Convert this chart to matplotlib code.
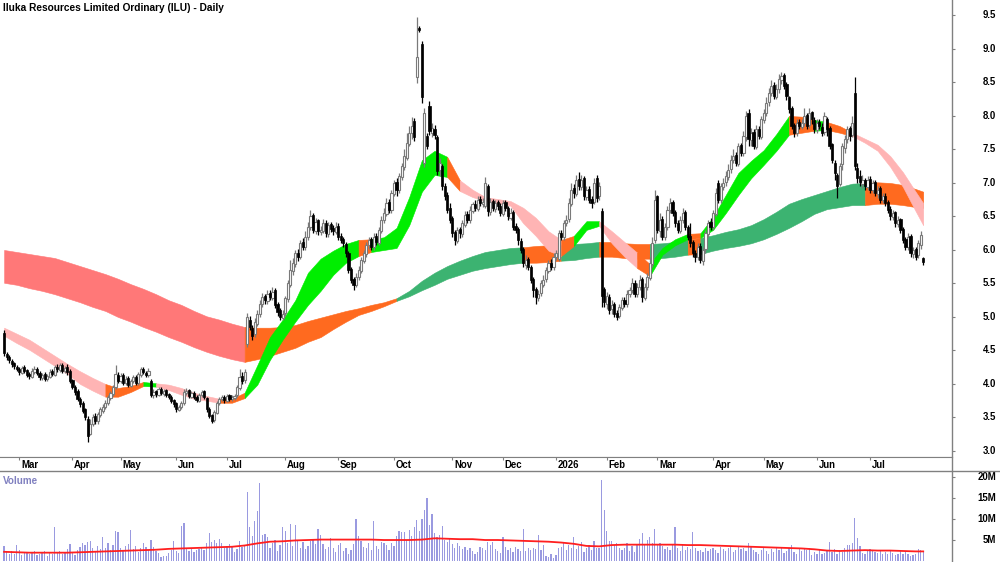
import numpy as np
import pandas as pd
import matplotlib
matplotlib.use("Agg")
import matplotlib.pyplot as plt
from matplotlib.lines import Line2D
from matplotlib.transforms import blended_transform_factory

plt.rcParams['font.family'] = ['Liberation Sans', 'DejaVu Sans']

# ASX trading days
holidays = ['2025-04-18', '2025-04-21', '2025-04-25', '2025-06-09', '2025-12-25',
            '2025-12-26', '2026-01-01', '2026-01-26', '2026-04-03', '2026-04-06', '2026-06-08']
dates = pd.bdate_range('2025-02-21', periods=364, freq='C', holidays=holidays)

opens = [
    4.76, 4.45, 4.41, 4.35, 4.31, 4.26, 4.23, 4.17, 4.25, 4.21, 4.15, 4.11, 4.18, 4.23, 4.17,
    4.09, 4.15, 4.07, 4.11, 4.20, 4.14, 4.26, 4.21, 4.29, 4.19, 4.26, 4.19, 4.06, 3.96, 3.89,
    3.77, 3.71, 3.62, 3.48, 3.26, 3.41, 3.52, 3.44, 3.54, 3.60, 3.65, 3.71, 3.79, 3.85, 3.96,
    4.14, 4.04, 4.13, 4.01, 4.09, 3.97, 4.04, 4.11, 4.01, 4.14, 4.23, 4.17, 4.13, 4.05, 3.83,
    3.89, 3.84, 3.93, 3.85, 3.91, 3.85, 3.81, 3.76, 3.71, 3.61, 3.65, 3.71, 3.87, 3.91, 3.81,
    3.87, 3.81, 3.75, 3.83, 3.89, 3.79, 3.63, 3.53, 3.46, 3.57, 3.71, 3.77, 3.81, 3.75, 3.83,
    3.77, 3.79, 3.83, 3.94, 4.12, 4.06, 4.60, 4.95, 4.84, 4.74, 4.90, 5.04, 5.19, 5.31, 5.24,
    5.36, 5.29, 5.40, 5.19, 5.10, 4.99, 5.06, 5.27, 5.48, 5.68, 5.79, 5.96, 5.89, 6.12, 6.04,
    6.19, 6.34, 6.52, 6.29, 6.44, 6.27, 6.29, 6.41, 6.24, 6.39, 6.33, 6.27, 6.36, 6.21, 6.16,
    6.09, 5.96, 5.72, 5.56, 5.47, 5.59, 5.69, 5.84, 5.94, 6.07, 6.16, 6.04, 6.21, 6.11, 6.29,
    6.44, 6.54, 6.72, 6.59, 6.84, 7.02, 6.89, 7.09, 7.24, 7.38, 7.58, 7.74, 7.92, 8.58, 9.32,
    9.08, 7.30, 7.70, 8.15, 7.75, 7.80, 7.68, 7.20, 7.25, 6.95, 6.82, 6.62, 6.47, 6.27, 6.14,
    6.31, 6.24, 6.38, 6.53, 6.44, 6.58, 6.69, 6.61, 6.76, 6.69, 6.65, 6.95, 6.56, 6.73, 6.61,
    6.71, 6.66, 6.54, 6.71, 6.63, 6.48, 6.56, 6.36, 6.32, 6.14, 6.02, 5.78, 5.87, 5.74, 5.56,
    5.42, 5.28, 5.36, 5.48, 5.56, 5.69, 5.81, 5.74, 5.89, 5.86, 6.26, 6.19, 6.41, 6.46, 6.69,
    6.92, 6.84, 7.06, 6.94, 7.07, 6.79, 6.91, 6.76, 6.72, 7.08, 6.80, 6.58, 5.42, 5.20, 5.30,
    5.12, 5.19, 5.06, 5.01, 5.14, 5.26, 5.19, 5.34, 5.41, 5.51, 5.34, 5.44, 5.56, 5.29, 5.44,
    5.58, 5.79, 6.15, 6.80, 6.28, 6.46, 6.19, 6.34, 6.59, 6.72, 6.56, 6.41, 6.29, 6.44, 6.56,
    6.34, 6.21, 6.12, 5.96, 5.89, 6.06, 5.84, 6.01, 6.24, 6.42, 6.34, 6.54, 7.00, 6.74, 6.94,
    7.01, 7.09, 7.21, 7.34, 7.42, 7.29, 7.56, 7.44, 7.68, 8.05, 7.64, 7.76, 7.54, 7.81, 7.69,
    7.94, 8.04, 8.21, 8.34, 8.46, 8.29, 8.41, 8.54, 8.61, 8.47, 8.28, 8.12, 7.86, 7.74, 7.91,
    7.84, 7.89, 8.01, 7.86, 8.06, 7.94, 7.79, 7.91, 7.84, 7.76, 7.95, 7.82, 7.58, 7.30, 7.12,
    6.98, 7.28, 7.52, 7.66, 7.82, 7.72, 8.35, 7.22, 7.10, 6.98, 7.04, 6.94, 7.06, 6.89, 7.01,
    6.84, 6.92, 6.74, 6.81, 6.71, 6.61, 6.49, 6.56, 6.39, 6.46, 6.31, 6.16, 6.04, 6.21, 5.94,
    6.01, 5.92, 6.08, 5.88,
]
highs = [
    4.80, 4.48, 4.43, 4.37, 4.33, 4.29, 4.25, 4.27, 4.28, 4.23, 4.18, 4.24, 4.27, 4.25, 4.19,
    4.17, 4.18, 4.15, 4.22, 4.23, 4.29, 4.30, 4.32, 4.31, 4.27, 4.30, 4.22, 4.08, 3.99, 3.92,
    3.80, 3.74, 3.64, 3.52, 3.48, 3.55, 3.56, 3.58, 3.66, 3.70, 3.76, 3.84, 3.90, 3.99, 4.28,
    4.18, 4.16, 4.16, 4.12, 4.12, 4.08, 4.14, 4.13, 4.18, 4.25, 4.26, 4.20, 4.24, 4.07, 3.92,
    3.91, 3.95, 3.95, 3.93, 3.93, 3.87, 3.84, 3.78, 3.73, 3.69, 3.75, 3.92, 3.94, 3.93, 3.89,
    3.89, 3.83, 3.86, 3.91, 3.91, 3.81, 3.66, 3.55, 3.61, 3.75, 3.81, 3.83, 3.83, 3.85, 3.85,
    3.83, 3.85, 3.98, 4.22, 4.18, 4.22, 5.06, 5.02, 4.88, 4.98, 5.10, 5.25, 5.36, 5.34, 5.40,
    5.40, 5.45, 5.43, 5.22, 5.13, 5.10, 5.32, 5.55, 5.85, 5.88, 6.00, 6.02, 6.15, 6.18, 6.28,
    6.42, 6.60, 6.55, 6.48, 6.46, 6.36, 6.46, 6.44, 6.42, 6.42, 6.37, 6.42, 6.40, 6.26, 6.20,
    6.12, 5.98, 5.75, 5.60, 5.65, 5.76, 5.90, 6.00, 6.12, 6.20, 6.20, 6.25, 6.26, 6.35, 6.50,
    6.62, 6.78, 6.76, 6.90, 7.05, 7.08, 7.15, 7.30, 7.50, 7.75, 7.85, 7.98, 7.97, 9.48, 9.35,
    9.12, 8.12, 7.75, 8.22, 7.90, 7.86, 7.72, 7.38, 7.28, 7.00, 6.86, 6.70, 6.50, 6.30, 6.35,
    6.35, 6.45, 6.58, 6.58, 6.66, 6.72, 6.74, 6.80, 6.80, 6.78, 7.09, 6.98, 6.78, 6.76, 6.75,
    6.74, 6.70, 6.75, 6.74, 6.66, 6.62, 6.60, 6.40, 6.35, 6.18, 6.05, 5.92, 5.90, 5.78, 5.60,
    5.45, 5.40, 5.55, 5.62, 5.75, 5.85, 5.86, 5.95, 6.00, 6.30, 6.30, 6.45, 6.52, 6.78, 7.00,
    6.98, 7.12, 7.16, 7.12, 7.10, 6.95, 6.95, 6.80, 7.08, 7.12, 7.02, 6.62, 5.45, 5.38, 5.34,
    5.25, 5.22, 5.10, 5.20, 5.30, 5.30, 5.40, 5.45, 5.58, 5.55, 5.50, 5.62, 5.60, 5.50, 5.65,
    5.90, 6.20, 6.90, 6.82, 6.55, 6.50, 6.40, 6.65, 6.78, 6.75, 6.60, 6.45, 6.50, 6.62, 6.60,
    6.38, 6.40, 6.15, 6.00, 6.10, 6.10, 6.05, 6.30, 6.45, 6.48, 6.60, 6.92, 7.05, 7.00, 7.08,
    7.18, 7.28, 7.42, 7.50, 7.46, 7.60, 7.60, 7.78, 8.08, 8.10, 7.82, 7.80, 7.86, 7.85, 8.00,
    8.10, 8.28, 8.42, 8.54, 8.50, 8.48, 8.62, 8.66, 8.64, 8.50, 8.30, 8.15, 7.90, 7.95, 7.95,
    7.95, 8.12, 8.05, 8.12, 8.08, 7.98, 7.95, 7.95, 7.90, 8.06, 7.98, 7.85, 7.60, 7.35, 7.15,
    7.30, 7.60, 7.72, 7.85, 7.85, 8.00, 8.58, 7.30, 7.20, 7.12, 7.08, 7.10, 7.10, 7.05, 7.04,
    6.95, 6.95, 6.85, 6.85, 6.75, 6.65, 6.60, 6.58, 6.50, 6.48, 6.35, 6.20, 6.25, 6.24, 6.05,
    6.05, 6.15, 6.28, 5.90,
]
lows = [
    4.42, 4.36, 4.32, 4.26, 4.22, 4.19, 4.14, 4.15, 4.17, 4.10, 4.08, 4.09, 4.15, 4.13, 4.06,
    4.06, 4.05, 4.04, 4.09, 4.12, 4.12, 4.18, 4.18, 4.17, 4.16, 4.14, 4.02, 3.92, 3.84, 3.74,
    3.66, 3.57, 3.46, 3.13, 3.24, 3.38, 3.40, 3.41, 3.51, 3.57, 3.62, 3.68, 3.76, 3.82, 3.93,
    4.01, 4.01, 3.98, 3.98, 3.95, 3.95, 4.01, 3.99, 3.99, 4.11, 4.15, 4.10, 4.11, 3.80, 3.79,
    3.81, 3.82, 3.83, 3.82, 3.80, 3.77, 3.72, 3.66, 3.58, 3.59, 3.63, 3.69, 3.84, 3.79, 3.79,
    3.77, 3.73, 3.73, 3.81, 3.77, 3.58, 3.49, 3.42, 3.43, 3.55, 3.69, 3.74, 3.72, 3.73, 3.75,
    3.74, 3.76, 3.80, 3.91, 4.00, 4.02, 4.55, 4.80, 4.65, 4.70, 4.86, 5.00, 5.15, 5.20, 5.20,
    5.25, 5.26, 5.14, 5.02, 4.96, 4.96, 5.02, 5.22, 5.44, 5.62, 5.75, 5.84, 5.86, 6.00, 6.00,
    6.15, 6.30, 6.25, 6.24, 6.22, 6.22, 6.25, 6.20, 6.20, 6.27, 6.22, 6.24, 6.15, 6.10, 6.05,
    5.90, 5.65, 5.50, 5.40, 5.44, 5.55, 5.65, 5.80, 5.90, 6.02, 6.00, 6.00, 6.08, 6.08, 6.25,
    6.40, 6.50, 6.55, 6.55, 6.80, 6.80, 6.85, 7.05, 7.20, 7.35, 7.55, 7.65, 7.62, 8.49, 9.25,
    8.20, 7.24, 7.50, 7.72, 7.68, 7.65, 7.12, 7.10, 6.90, 6.75, 6.55, 6.40, 6.20, 6.08, 6.10,
    6.18, 6.20, 6.34, 6.40, 6.40, 6.55, 6.58, 6.58, 6.65, 6.64, 6.62, 6.50, 6.52, 6.58, 6.56,
    6.60, 6.50, 6.50, 6.58, 6.44, 6.45, 6.30, 6.25, 6.08, 5.95, 5.75, 5.72, 5.70, 5.50, 5.30,
    5.20, 5.24, 5.32, 5.45, 5.52, 5.65, 5.70, 5.70, 5.85, 5.84, 6.15, 6.15, 6.36, 6.42, 6.65,
    6.78, 6.80, 6.90, 6.90, 6.75, 6.75, 6.70, 6.62, 6.68, 6.72, 6.75, 5.15, 5.15, 5.12, 5.05,
    5.05, 5.00, 4.95, 4.98, 5.10, 5.15, 5.15, 5.30, 5.36, 5.30, 5.30, 5.40, 5.22, 5.25, 5.40,
    5.55, 5.75, 6.10, 6.25, 6.20, 6.15, 6.15, 6.30, 6.55, 6.50, 6.35, 6.25, 6.25, 6.40, 6.30,
    6.15, 6.05, 5.90, 5.82, 5.85, 5.80, 5.78, 5.95, 6.20, 6.30, 6.30, 6.50, 6.70, 6.70, 6.90,
    6.95, 7.05, 7.15, 7.30, 7.25, 7.25, 7.40, 7.40, 7.62, 7.55, 7.55, 7.50, 7.50, 7.65, 7.65,
    7.90, 8.00, 8.15, 8.30, 8.25, 8.25, 8.35, 8.48, 8.40, 8.24, 8.05, 7.80, 7.68, 7.70, 7.80,
    7.80, 7.85, 7.80, 7.82, 7.88, 7.75, 7.75, 7.80, 7.70, 7.72, 7.70, 7.50, 7.30, 7.05, 6.78,
    6.95, 7.20, 7.45, 7.60, 7.62, 7.68, 7.20, 7.00, 6.95, 6.92, 6.90, 6.90, 6.85, 6.85, 6.80,
    6.78, 6.70, 6.70, 6.65, 6.55, 6.45, 6.45, 6.35, 6.35, 6.25, 6.10, 6.00, 6.00, 5.90, 5.88,
    5.85, 5.88, 6.02, 5.78,
]
closes = [
    4.46, 4.40, 4.36, 4.30, 4.27, 4.22, 4.18, 4.24, 4.20, 4.14, 4.12, 4.20, 4.22, 4.16, 4.10,
    4.14, 4.08, 4.12, 4.18, 4.15, 4.25, 4.22, 4.28, 4.20, 4.24, 4.18, 4.05, 3.95, 3.88, 3.78,
    3.70, 3.60, 3.50, 3.22, 3.40, 3.50, 3.45, 3.55, 3.62, 3.66, 3.72, 3.80, 3.86, 3.95, 4.15,
    4.05, 4.12, 4.02, 4.08, 3.98, 4.05, 4.10, 4.02, 4.15, 4.22, 4.18, 4.14, 4.20, 3.84, 3.88,
    3.85, 3.92, 3.86, 3.90, 3.84, 3.80, 3.75, 3.70, 3.62, 3.66, 3.72, 3.88, 3.90, 3.82, 3.86,
    3.80, 3.76, 3.84, 3.88, 3.80, 3.62, 3.52, 3.45, 3.58, 3.72, 3.78, 3.80, 3.76, 3.82, 3.78,
    3.80, 3.82, 3.95, 4.10, 4.05, 4.18, 5.00, 4.85, 4.72, 4.92, 5.05, 5.20, 5.30, 5.25, 5.35,
    5.30, 5.38, 5.18, 5.08, 5.00, 5.05, 5.28, 5.50, 5.70, 5.80, 5.95, 5.90, 6.10, 6.05, 6.20,
    6.35, 6.50, 6.30, 6.42, 6.28, 6.30, 6.40, 6.25, 6.38, 6.32, 6.28, 6.35, 6.20, 6.15, 6.10,
    5.95, 5.70, 5.55, 5.48, 5.60, 5.70, 5.85, 5.95, 6.08, 6.15, 6.05, 6.20, 6.12, 6.30, 6.45,
    6.55, 6.70, 6.60, 6.85, 7.00, 6.90, 7.10, 7.25, 7.40, 7.60, 7.75, 7.85, 7.68, 8.88, 9.28,
    8.28, 8.05, 7.55, 7.78, 7.82, 7.72, 7.18, 7.30, 6.95, 6.80, 6.60, 6.45, 6.25, 6.15, 6.30,
    6.25, 6.40, 6.52, 6.45, 6.60, 6.68, 6.62, 6.75, 6.70, 6.72, 7.00, 6.58, 6.72, 6.62, 6.70,
    6.65, 6.55, 6.70, 6.62, 6.50, 6.55, 6.35, 6.30, 6.15, 6.00, 5.80, 5.85, 5.75, 5.55, 5.40,
    5.30, 5.35, 5.50, 5.55, 5.70, 5.80, 5.75, 5.90, 5.95, 6.25, 6.20, 6.40, 6.45, 6.70, 6.90,
    6.85, 7.05, 6.95, 7.05, 6.80, 6.90, 6.75, 6.70, 7.00, 6.78, 6.95, 5.32, 5.22, 5.32, 5.10,
    5.18, 5.05, 5.00, 5.15, 5.25, 5.20, 5.35, 5.40, 5.50, 5.35, 5.45, 5.55, 5.30, 5.45, 5.60,
    5.80, 6.10, 6.75, 6.30, 6.45, 6.20, 6.35, 6.60, 6.70, 6.55, 6.40, 6.30, 6.45, 6.55, 6.35,
    6.20, 6.10, 5.95, 5.90, 6.05, 5.85, 6.00, 6.25, 6.40, 6.35, 6.55, 6.85, 6.75, 6.95, 7.00,
    7.10, 7.20, 7.35, 7.40, 7.30, 7.55, 7.45, 7.70, 8.00, 7.65, 7.75, 7.55, 7.80, 7.70, 7.95,
    8.05, 8.20, 8.35, 8.45, 8.30, 8.40, 8.55, 8.60, 8.45, 8.30, 8.10, 7.85, 7.75, 7.90, 7.85,
    7.90, 8.00, 7.85, 8.05, 7.95, 7.80, 7.90, 7.85, 7.75, 8.00, 7.80, 7.55, 7.35, 7.15, 6.95,
    7.25, 7.55, 7.65, 7.80, 7.70, 7.90, 7.25, 7.08, 7.02, 7.05, 6.95, 7.05, 6.90, 7.00, 6.85,
    6.90, 6.75, 6.80, 6.70, 6.60, 6.50, 6.55, 6.40, 6.45, 6.30, 6.15, 6.05, 6.20, 5.95, 6.00,
    5.90, 6.10, 6.22, 5.82,
]
volumes = [  # millions
    3.5, 2.1, 1.6, 2.4, 1.8, 3.8, 2.6, 1.4, 1.9, 2.2, 1.6, 2.0, 2.4, 1.5, 1.8,
    2.2, 2.4, 1.3, 1.9, 1.6, 8.0, 2.1, 2.5, 1.7, 2.0, 2.8, 4.0, 2.2, 1.5, 2.6,
    3.4, 4.2, 3.8, 4.6, 4.8, 3.0, 2.4, 3.6, 2.8, 5.6, 3.2, 4.4, 2.6, 3.8, 7.1,
    6.8, 3.0, 2.4, 3.5, 4.0, 7.4, 2.8, 3.6, 2.2, 3.0, 4.2, 3.3, 2.6, 5.0, 3.4,
    2.5, 2.0, 1.0, 1.1, 1.3, 2.0, 2.6, 4.7, 2.4, 2.0, 8.3, 9.1, 3.2, 2.4, 3.0,
    2.2, 2.6, 2.8, 3.4, 2.6, 4.2, 6.7, 4.5, 5.0, 4.4, 5.2, 4.4, 3.0, 3.6, 4.0,
    3.6, 2.2, 2.8, 4.8, 3.4, 3.6, 16.4, 8.2, 6.0, 9.6, 11.8, 18.4, 6.2, 6.5, 5.8,
    3.0, 4.2, 5.0, 2.4, 3.8, 8.0, 7.1, 4.4, 8.8, 3.6, 8.5, 5.0, 3.2, 4.6, 2.8,
    3.6, 4.8, 5.2, 4.0, 7.5, 6.2, 4.0, 2.8, 3.4, 5.4, 3.0, 2.2, 3.8, 4.2, 2.4,
    3.0, 1.8, 2.6, 4.0, 10.0, 5.9, 4.8, 3.4, 3.0, 4.2, 2.6, 9.4, 3.6, 2.8, 4.6,
    4.2, 3.8, 2.6, 4.4, 3.6, 6.0, 7.2, 6.8, 7.0, 5.0, 7.4, 6.0, 8.0, 9.8, 7.2,
    10.0, 12.2, 15.0, 8.6, 11.1, 6.6, 5.8, 6.2, 8.4, 5.0, 4.6, 5.4, 4.0, 3.2, 4.4,
    3.6, 2.8, 3.4, 2.6, 3.0, 2.4, 1.6, 2.2, 3.4, 3.0, 2.6, 4.5, 3.8, 4.6, 2.8,
    2.4, 2.0, 5.6, 3.4, 2.6, 3.0, 2.2, 3.4, 2.8, 2.5, 7.6, 2.4, 3.0, 2.6, 3.2,
    2.8, 6.2, 2.6, 3.8, 1.2, 1.0, 1.6, 0.8, 1.4, 3.0, 3.4, 4.4, 2.6, 3.8, 3.2,
    5.8, 2.8, 3.6, 4.6, 2.2, 3.2, 3.8, 2.6, 4.8, 3.0, 3.2, 19.1, 12.2, 7.1, 4.7,
    4.7, 3.8, 4.4, 3.2, 2.6, 3.0, 4.2, 2.4, 3.6, 2.2, 3.8, 5.2, 6.7, 4.0, 5.0,
    5.8, 4.2, 7.6, 3.8, 4.4, 3.6, 2.8, 3.4, 2.6, 4.0, 8.0, 3.2, 2.4, 3.8, 2.6,
    3.4, 2.8, 7.0, 3.0, 2.4, 2.6, 2.2, 3.0, 2.4, 2.8, 3.2, 2.6, 2.0, 3.4, 2.8,
    2.4, 3.0, 3.6, 2.2, 2.6, 3.4, 2.8, 3.0, 2.4, 4.2, 3.6, 2.6, 2.2, 1.8, 2.6,
    3.0, 2.4, 1.8, 2.8, 2.2, 3.0, 2.6, 3.4, 2.0, 2.4, 3.2, 3.8, 2.2, 1.6, 2.8,
    2.4, 3.2, 2.6, 3.0, 1.4, 2.2, 1.8, 2.6, 1.6, 2.0, 2.4, 4.6, 2.2, 2.8, 1.8,
    2.6, 2.2, 3.0, 3.8, 3.8, 4.4, 10.3, 5.4, 3.5, 2.0, 1.6, 2.4, 2.8, 2.6, 2.2,
    2.0, 2.6, 1.8, 2.2, 1.6, 2.4, 2.0, 1.4, 1.8, 2.7, 1.8, 2.2, 1.6, 1.2, 1.4,
    1.6, 2.8, 2.6, 2.4,
]

# ribbons, sampled every 5 bars (last sample on the last bar)
long_hi = [
    6.00, 5.97, 5.94, 5.91, 5.88, 5.82, 5.76, 5.70, 5.64, 5.57,
    5.49, 5.42, 5.34, 5.25, 5.18, 5.09, 5.01, 4.96, 4.90, 4.85,
    4.84, 4.84, 4.85, 4.88, 4.94, 4.99, 5.04, 5.09, 5.13, 5.18,
    5.22, 5.28, 5.39, 5.54, 5.66, 5.76, 5.84, 5.91, 5.97, 6.00,
    6.03, 6.04, 6.06, 6.07, 6.07, 6.09, 6.10, 6.12, 6.12, 6.10,
    6.09, 6.09, 6.10, 6.12, 6.15, 6.18, 6.22, 6.27, 6.31, 6.37,
    6.46, 6.57, 6.69, 6.76, 6.82, 6.88, 6.94, 6.99, 7.00, 7.01,
    7.00, 6.97, 6.91, 6.87,
]
long_lo = [
    5.51, 5.48, 5.43, 5.39, 5.34, 5.28, 5.22, 5.15, 5.09, 5.00,
    4.93, 4.85, 4.78, 4.70, 4.63, 4.55, 4.48, 4.42, 4.37, 4.33,
    4.37, 4.42, 4.48, 4.54, 4.63, 4.70, 4.82, 4.93, 5.03, 5.09,
    5.16, 5.24, 5.31, 5.40, 5.48, 5.57, 5.63, 5.69, 5.73, 5.76,
    5.79, 5.81, 5.81, 5.82, 5.84, 5.85, 5.88, 5.90, 5.90, 5.88,
    5.87, 5.87, 5.88, 5.90, 5.93, 5.94, 5.99, 6.03, 6.06, 6.10,
    6.16, 6.24, 6.33, 6.43, 6.54, 6.61, 6.64, 6.67, 6.67, 6.69,
    6.69, 6.67, 6.64, 6.63,
]
short_hi = [
    4.84, 4.75, 4.66, 4.54, 4.42, 4.30, 4.19, 4.09, 4.00, 3.94,
    3.97, 4.03, 4.01, 3.99, 3.94, 3.87, 3.82, 3.78, 3.78, 3.87,
    4.28, 4.70, 4.96, 5.25, 5.66, 5.87, 5.99, 6.09, 6.15, 6.16,
    6.19, 6.33, 6.79, 7.34, 7.48, 7.39, 7.04, 6.90, 6.79, 6.76,
    6.73, 6.63, 6.48, 6.28, 6.15, 6.21, 6.43, 6.43, 6.28, 6.12,
    5.96, 5.79, 6.03, 6.16, 6.24, 6.25, 6.49, 6.82, 7.15, 7.33,
    7.49, 7.73, 8.00, 7.99, 7.94, 7.91, 7.85, 7.75, 7.66, 7.57,
    7.40, 7.16, 6.87, 6.70,
]
short_lo = [
    4.72, 4.61, 4.51, 4.39, 4.27, 4.15, 4.00, 3.90, 3.81, 3.81,
    3.88, 3.97, 3.96, 3.91, 3.84, 3.78, 3.75, 3.72, 3.72, 3.79,
    3.99, 4.36, 4.66, 4.93, 5.18, 5.39, 5.63, 5.81, 5.91, 5.97,
    6.00, 6.03, 6.37, 6.87, 7.12, 7.09, 6.88, 6.79, 6.73, 6.70,
    6.66, 6.40, 6.21, 5.99, 5.91, 6.06, 6.30, 6.36, 6.10, 5.90,
    5.73, 5.61, 5.93, 6.07, 6.16, 6.18, 6.30, 6.55, 6.82, 7.07,
    7.27, 7.48, 7.72, 7.75, 7.78, 7.79, 7.75, 7.70, 7.60, 7.48,
    7.24, 6.94, 6.58, 6.37,
]
# trend state of each ribbon segment: R/P falling, O mixed, G rising
long_state = ("RRRRRRRRRRRRRRRRRRR" "OOOOOOOOOOOO" "GGGGGGGGGG" "OOO" "GGG"
              "OOOO" "GGG" "O" "GGGGGGGGGGGGG" "OOOOO")
short_state = ("PPPPPPPP" "OOO" "G" "PPPPP" "OO" "GGGGGGGGG" "O" "GGGGGG" "O"
               "PPPPPPPP" "O" "GG" "PPP" "O" "GGG" "O" "GGGGGGG" "OO" "G" "OO" "PPPPPP")
vol_ma = [
    2.2, 2.1, 2.0, 2.0, 2.0, 2.0, 2.1, 2.2, 2.3, 2.4,
    2.5, 2.6, 2.7, 2.9, 3.0, 3.1, 3.2, 3.3, 3.4, 3.7,
    4.2, 4.6, 4.7, 4.9, 5.0, 5.1, 5.1, 5.1, 5.1, 5.1,
    5.0, 5.0, 5.0, 5.1, 5.4, 5.3, 5.2, 5.2, 5.0, 5.0,
    4.9, 4.8, 4.7, 4.6, 4.4, 4.1, 3.6, 3.5, 3.8, 3.9,
    3.9, 3.9, 3.9, 3.9, 3.8, 3.8, 3.7, 3.6, 3.5, 3.4,
    3.3, 3.2, 3.1, 3.0, 2.8, 2.5, 2.4, 2.5, 2.6, 2.5,
    2.5, 2.4, 2.3, 2.3,
]

o = np.array(opens); h = np.array(highs); l = np.array(lows); c = np.array(closes)
x = np.arange(len(c))
rib_x = np.r_[np.arange(0, len(c) - 3, 5), len(c) - 1]

LONG_COLORS = {'R': '#ff7878', 'O': '#ff6a1f', 'G': '#3cb371'}
SHORT_COLORS = {'P': '#ffb4b4', 'O': '#ff6a1f', 'G': '#00ee00'}
GRAY = '#808080'

W, H = 1000, 562
fig = plt.figure(figsize=(10, 5.62), dpi=100)
ax = fig.add_axes([0, 1 - 457 / H, 951.7 / W, 457 / H])
ax_m = fig.add_axes([0, 1 - 471 / H, 951.7 / W, 14 / H])
ax_v = fig.add_axes([0, 0, 951.7 / W, 91 / H])

xlim = (-4.1 / 2.532, (951.7 - 4.1) / 2.532)


def fill_ribbon(hi, lo, states, colors):
    hi = np.array(hi); lo = np.array(lo)
    start = 0
    for j in range(1, len(states) + 1):
        if j == len(states) or states[j] != states[start]:
            sl = slice(start, j + 1)
            col = colors[states[start]]
            ax.fill_between(rib_x[sl], lo[sl], hi[sl], facecolor=col,
                            edgecolor=col, lw=0.4, zorder=1)
            start = j


fill_ribbon(long_hi, long_lo, long_state, LONG_COLORS)
fill_ribbon(short_hi, short_lo, short_state, SHORT_COLORS)

# candles
up = c >= o
ax.vlines(x[up], l[up], h[up], color='#7a7a7a', lw=0.9, zorder=3)
ax.vlines(x[~up], l[~up], h[~up], color='black', lw=0.9, zorder=3)
body_lo = np.minimum(o, c)
body_h = np.maximum(np.abs(c - o), 0.02)
ax.bar(x[up], body_h[up], bottom=body_lo[up], width=0.85, facecolor='white',
       edgecolor='#7a7a7a', lw=0.8, zorder=4)
ax.bar(x[~up], body_h[~up], bottom=body_lo[~up], width=0.85, facecolor='black',
       edgecolor='black', lw=0.5, zorder=4)

ax.set_xlim(*xlim)
ax.set_ylim(2.910, 9.731)
for s in ['top', 'left', 'right']:
    ax.spines[s].set_visible(False)
ax.spines['bottom'].set_color(GRAY)
ax.set_xticks([])
ax.yaxis.tick_right()
ticks = np.arange(3.0, 9.51, 0.5)
ax.set_yticks(ticks)
ax.tick_params(axis='y', length=2.5, color=GRAY, labelright=False)
tr = blended_transform_factory(fig.transFigure, ax.transData)
for t in ticks:
    ax.text(0.996, t, f'{t:.1f}', transform=tr, ha='right', va='center',
            fontsize=6.9, fontweight='bold', clip_on=False)

fig.text(0.003, 1 - 8 / H, 'Iluka Resources Limited Ordinary (ILU) - Daily',
         fontsize=7.25, fontweight='bold', va='center')

# month strip
ax_m.set_xlim(*xlim)
ax_m.set_ylim(0, 1)
ax_m.set_xticks([]); ax_m.set_yticks([])
for s in ['left', 'right', 'bottom']:
    ax_m.spines[s].set_visible(False)
ax_m.spines['top'].set_color(GRAY)
months = dates.month.values
for i in range(1, len(dates)):
    if months[i] != months[i - 1]:
        lab = str(dates[i].year) if months[i] == 1 else dates[i].strftime('%b')
        ax_m.vlines(i, 0.78, 1.0, color=GRAY, lw=0.8)
        ax_m.text(i + 0.7, 0.45, lab, ha='left', va='center', fontsize=6.9,
                  fontweight='bold')
fig.add_artist(Line2D([0, 1], [1 - 471 / H, 1 - 471 / H], transform=fig.transFigure,
                      color=GRAY, lw=1))

# volume
ax_v.bar(x, volumes, width=0.5, color='#9a9ae0', zorder=2)
ax_v.plot(rib_x, vol_ma, color='#ff1f1f', lw=1.3, zorder=3)
ax_v.set_xlim(*xlim)
ax_v.set_ylim(-0.21, 21.35)
for s in ['top', 'left', 'right', 'bottom']:
    ax_v.spines[s].set_visible(False)
ax_v.set_xticks([])
ax_v.yaxis.tick_right()
vticks = [5, 10, 15, 20]
ax_v.set_yticks(vticks)
ax_v.tick_params(axis='y', length=2.5, color=GRAY, labelright=False)
trv = blended_transform_factory(fig.transFigure, ax_v.transData)
for t in vticks:
    ax_v.text(0.996, t, f'{t}M', transform=trv, ha='right', va='center',
              fontsize=6.9, fontweight='bold', clip_on=False)
fig.text(0.003, 1 - 481 / H, 'Volume', color='#8080c0', fontsize=7.1,
         fontweight='bold', va='center')

fig.add_artist(Line2D([951.7 / W, 951.7 / W], [0, 1], transform=fig.transFigure,
                      color=GRAY, lw=1))

fig.savefig('out.png', dpi=100)
